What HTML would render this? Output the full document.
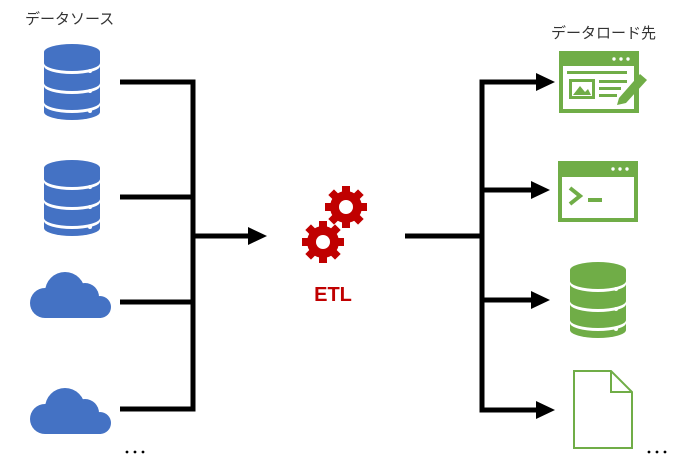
<!DOCTYPE html>
<html><head><meta charset="utf-8"><style>
body{margin:0;width:689px;height:461px;background:#fff;overflow:hidden;font-family:"Liberation Sans","Noto Sans CJK JP",sans-serif}
</style></head><body>
<svg width="689" height="461" viewBox="0 0 689 461" xmlns="http://www.w3.org/2000/svg">
<defs>
<g id="db">
<path d="M0 8 A28 8 0 0 1 56 8 V68 A28 8 0 0 1 0 68 Z"/>
<g fill="#fff">
<path d="M0 19 A28 8 0 0 0 56 19 V22 A28 8 0 0 1 0 22 Z"/>
<path d="M0 39 A28 8 0 0 0 56 39 V42 A28 8 0 0 1 0 42 Z"/>
<path d="M0 58 A28 8 0 0 0 56 58 V61 A28 8 0 0 1 0 61 Z"/>
<circle cx="46" cy="27" r="2"/><circle cx="46" cy="47" r="2"/><circle cx="46" cy="67" r="2"/>
</g></g>
<g id="cloud">
<circle cx="15" cy="33" r="15"/><circle cx="55" cy="27" r="14"/><circle cx="35" cy="22" r="20"/><circle cx="70" cy="37" r="11"/>
<rect x="15" y="30" width="56" height="18"/>
</g>
<g id="gear">
<g><rect x="-4" y="-21" width="8" height="42"/><rect x="-4" y="-21" width="8" height="42" transform="rotate(45)"/><rect x="-4" y="-21" width="8" height="42" transform="rotate(90)"/><rect x="-4" y="-21" width="8" height="42" transform="rotate(135)"/></g>
<circle r="16"/><circle r="7" fill="#fff"/>
</g>
</defs>
<text x="25" y="24" font-size="15" fill="#333">データソース</text>
<text x="551" y="38" font-size="15" fill="#333">データロード先</text>
<g fill="#4472C4">
<use href="#db" x="44" y="44"/>
<use href="#db" x="44" y="160"/>
<use href="#cloud" x="30" y="270"/>
<use href="#cloud" x="30" y="386"/>
</g>
<g stroke="#000" stroke-width="5" fill="none">
<polyline points="120,82 193,82 193,409 120,409"/>
<line x1="120" y1="197" x2="193" y2="197"/>
<line x1="120" y1="302" x2="193" y2="302"/>
<line x1="193" y1="236" x2="250" y2="236"/>
<line x1="405" y1="236" x2="482" y2="236"/>
<polyline points="538,82 482,82 482,410 538,410"/>
<line x1="482" y1="190" x2="533" y2="190"/>
<line x1="482" y1="300" x2="533" y2="300"/>
</g>
<g fill="#000">
<polygon points="248,227 267,236 248,245"/>
<polygon points="536,73 555,82 536,91"/>
<polygon points="531,181 550,190 531,199"/>
<polygon points="531,291 550,300 531,309"/>
<polygon points="536,401 555,410 536,419"/>
<circle cx="127" cy="452" r="1.4"/><circle cx="135" cy="452" r="1.4"/><circle cx="143" cy="452" r="1.4"/>
<circle cx="649" cy="452" r="1.4"/><circle cx="657" cy="452" r="1.4"/><circle cx="665" cy="452" r="1.4"/>
</g>
<g fill="#C00000">
<use href="#gear" transform="translate(346,207)"/>
<use href="#gear" transform="translate(323,242)"/>
</g>
<text x="333" y="301" font-size="20" font-weight="bold" fill="#C00000" text-anchor="middle">ETL</text>
<g fill="#70AD47">
<rect x="559" y="51" width="80" height="62"/>
<rect x="558" y="161" width="80" height="61"/>
<use href="#db" x="570" y="262"/>
</g>
<g fill="#fff">
<circle cx="614" cy="59" r="1.7"/><circle cx="621" cy="59" r="1.7"/><circle cx="628" cy="59" r="1.7"/>
<rect x="563" y="66" width="71" height="43"/>
<circle cx="613" cy="169" r="1.7"/><circle cx="620" cy="169" r="1.7"/><circle cx="627" cy="169" r="1.7"/>
<rect x="562" y="177" width="72" height="41"/>
</g>
<g fill="#70AD47">
<rect x="567" y="71" width="60" height="3"/>
<rect x="569" y="79" width="26" height="20"/>
<rect x="599" y="80" width="28" height="3"/><rect x="599" y="87" width="22" height="3"/><rect x="599" y="94" width="18" height="3"/>
<polygon points="619,98 640,74 647,80 626,103 617,105"/>
<rect x="588" y="198" width="14" height="4"/>
</g>
<rect x="572" y="82" width="20" height="14" fill="#fff"/>
<polygon points="573,95 580,86 585,92 588,89 591,95" fill="#70AD47"/>
<polyline points="570,188 580,196 570,204" stroke="#70AD47" stroke-width="4" fill="none"/>
<path d="M574 371 H611 L632 392 V448 H574 Z M611 371 V392 H632" stroke="#70AD47" stroke-width="2" fill="#fff"/>
</svg>
</body></html>
